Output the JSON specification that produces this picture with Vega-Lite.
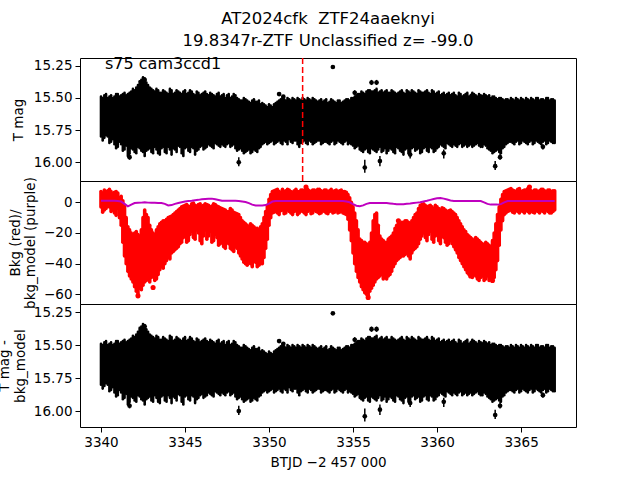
{
  "$schema": "https://vega.github.io/schema/vega-lite/v6.json",
  "autosize": {"type": "none"},
  "params": [{"name": "width", "value": 496}, {"name": "height", "value": 369}],
  "padding": {"left": 80, "top": 58, "right": 64, "bottom": 53},
  "spacing": 0,
  "bounds": "flush",
  "background": "white",
  "config": {
    "font": "DejaVu Sans",
    "view": {"stroke": "black", "strokeWidth": 1},
    "axis": {"labelFont": "DejaVu Sans", "labelFontSize": 13.5, "labelColor": "black", "titleFont": "DejaVu Sans", "titleFontSize": 13.5, "titleFontWeight": "normal", "titleColor": "black", "tickColor": "black", "domainColor": "black", "tickSize": 5, "labelPadding": 3, "grid": false, "domain": false, "labelFlush": false, "labelOverlap": false}
  },
  "title": {"text": ["AT2024cfk\u00a0 ZTF24aaeknyi", "19.8347r-ZTF Unclassified z= -99.0"], "fontSize": 16.5, "fontWeight": "normal", "font": "DejaVu Sans", "color": "black", "anchor": "middle", "frame": "group", "offset": 6, "lineHeight": 22},
  "datasets": {
    "lc": [
      {"t":3340.0,"lo":15.49,"hi":15.80,"bt":7.0,"bb":-3.0,"bm":1.0},
      {"t":3340.2,"lo":15.48,"hi":15.81,"bt":8.0,"bb":-5.0,"bm":1.0},
      {"t":3340.4,"lo":15.50,"hi":15.80,"bt":7.5,"bb":-2.5,"bm":1.0},
      {"t":3340.6,"lo":15.48,"hi":15.84,"bt":7.0,"bb":-6.0,"bm":1.0},
      {"t":3340.8,"lo":15.49,"hi":15.86,"bt":6.5,"bb":-7.0,"bm":1.0},
      {"t":3341.0,"lo":15.47,"hi":15.88,"bt":6.0,"bb":-4.0,"bm":0.9},
      {"t":3341.2,"lo":15.48,"hi":15.86,"bt":4.0,"bb":-15.0,"bm":0.5},
      {"t":3341.4,"lo":15.46,"hi":15.90,"bt":-2.0,"bb":-35.0,"bm":-1.0},
      {"t":3341.6,"lo":15.47,"hi":15.95,"bt":-16.0,"bb":-45.0,"bm":-2.6},
      {"t":3341.8,"lo":15.45,"hi":15.89,"bt":-20.0,"bb":-50.0,"bm":-1.5},
      {"t":3342.0,"lo":15.44,"hi":15.92,"bt":-20.0,"bb":-55.0,"bm":-0.5},
      {"t":3342.2,"lo":15.40,"hi":15.88,"bt":-21.0,"bb":-59.5,"bm":-0.3},
      {"t":3342.4,"lo":15.36,"hi":15.91,"bt":-18.0,"bb":-57.0,"bm":-0.2},
      {"t":3342.6,"lo":15.35,"hi":15.95,"bt":-5.0,"bb":-52.0,"bm":0.0},
      {"t":3342.8,"lo":15.40,"hi":15.90,"bt":-10.0,"bb":-50.0,"bm":-0.2},
      {"t":3343.0,"lo":15.43,"hi":15.92,"bt":-18.0,"bb":-49.0,"bm":-0.3},
      {"t":3343.2,"lo":15.45,"hi":15.88,"bt":-21.0,"bb":-51.0,"bm":-0.3},
      {"t":3343.4,"lo":15.44,"hi":15.93,"bt":-16.0,"bb":-47.0,"bm":-0.5},
      {"t":3343.6,"lo":15.46,"hi":15.89,"bt":-13.0,"bb":-42.0,"bm":-0.5},
      {"t":3343.8,"lo":15.45,"hi":15.92,"bt":-12.0,"bb":-40.0,"bm":-1.0},
      {"t":3344.0,"lo":15.47,"hi":15.88,"bt":-10.0,"bb":-36.0,"bm":-2.0},
      {"t":3344.2,"lo":15.44,"hi":15.94,"bt":-9.0,"bb":-33.0,"bm":-1.8},
      {"t":3344.4,"lo":15.46,"hi":15.90,"bt":-7.0,"bb":-31.0,"bm":-1.0},
      {"t":3344.6,"lo":15.45,"hi":15.87,"bt":-5.0,"bb":-29.0,"bm":-0.5},
      {"t":3344.8,"lo":15.47,"hi":15.93,"bt":-3.0,"bb":-26.0,"bm":0.0},
      {"t":3345.0,"lo":15.44,"hi":15.89,"bt":-2.0,"bb":-22.0,"bm":0.5},
      {"t":3345.2,"lo":15.46,"hi":15.91,"bt":-2.5,"bb":-25.0,"bm":0.8},
      {"t":3345.4,"lo":15.45,"hi":15.88,"bt":-1.0,"bb":-19.0,"bm":1.0},
      {"t":3345.6,"lo":15.48,"hi":15.94,"bt":-2.0,"bb":-24.0,"bm":1.3},
      {"t":3345.8,"lo":15.46,"hi":15.90,"bt":-1.5,"bb":-20.0,"bm":1.6},
      {"t":3346.0,"lo":15.47,"hi":15.87,"bt":-3.0,"bb":-27.0,"bm":2.0},
      {"t":3346.2,"lo":15.45,"hi":15.89,"bt":-1.0,"bb":-18.0,"bm":2.2},
      {"t":3346.4,"lo":15.48,"hi":15.86,"bt":-2.0,"bb":-22.0,"bm":2.4},
      {"t":3346.6,"lo":15.47,"hi":15.88,"bt":-2.5,"bb":-26.0,"bm":2.4},
      {"t":3346.8,"lo":15.49,"hi":15.85,"bt":-1.5,"bb":-21.0,"bm":2.0},
      {"t":3347.0,"lo":15.46,"hi":15.87,"bt":-3.0,"bb":-28.0,"bm":1.5},
      {"t":3347.2,"lo":15.48,"hi":15.86,"bt":-4.0,"bb":-25.0,"bm":1.0},
      {"t":3347.4,"lo":15.50,"hi":15.88,"bt":-5.0,"bb":-30.0,"bm":1.0},
      {"t":3347.6,"lo":15.47,"hi":15.85,"bt":-6.0,"bb":-27.0,"bm":1.0},
      {"t":3347.8,"lo":15.49,"hi":15.87,"bt":-5.0,"bb":-31.0,"bm":1.0},
      {"t":3348.0,"lo":15.48,"hi":15.89,"bt":-7.0,"bb":-29.0,"bm":1.0},
      {"t":3348.2,"lo":15.51,"hi":15.90,"bt":-8.0,"bb":-33.0,"bm":0.8},
      {"t":3348.4,"lo":15.52,"hi":15.91,"bt":-12.0,"bb":-37.0,"bm":0.5},
      {"t":3348.6,"lo":15.51,"hi":15.92,"bt":-14.0,"bb":-40.0,"bm":0.2},
      {"t":3348.8,"lo":15.53,"hi":15.90,"bt":-16.0,"bb":-38.0,"bm":-0.5},
      {"t":3349.0,"lo":15.52,"hi":15.92,"bt":-15.0,"bb":-42.0,"bm":-1.5},
      {"t":3349.2,"lo":15.53,"hi":15.91,"bt":-17.0,"bb":-39.0,"bm":-2.0},
      {"t":3349.4,"lo":15.52,"hi":15.89,"bt":-18.0,"bb":-41.0,"bm":-2.0},
      {"t":3349.6,"lo":15.54,"hi":15.86,"bt":-14.0,"bb":-40.0,"bm":-2.0},
      {"t":3349.8,"lo":15.56,"hi":15.84,"bt":-6.0,"bb":-30.0,"bm":-1.8},
      {"t":3350.0,"lo":15.55,"hi":15.85,"bt":2.0,"bb":-15.0,"bm":-0.8},
      {"t":3350.2,"lo":15.57,"hi":15.83,"bt":7.0,"bb":-7.0,"bm":0.5},
      {"t":3350.4,"lo":15.54,"hi":15.85,"bt":8.0,"bb":-6.0,"bm":0.8},
      {"t":3350.6,"lo":15.52,"hi":15.83,"bt":7.0,"bb":-8.0,"bm":0.8},
      {"t":3350.8,"lo":15.50,"hi":15.86,"bt":8.5,"bb":-5.0,"bm":0.8},
      {"t":3351.0,"lo":15.52,"hi":15.84,"bt":7.5,"bb":-7.0,"bm":0.8},
      {"t":3351.2,"lo":15.51,"hi":15.82,"bt":8.0,"bb":-6.0,"bm":0.8},
      {"t":3351.4,"lo":15.50,"hi":15.85,"bt":6.5,"bb":-8.0,"bm":0.8},
      {"t":3351.6,"lo":15.52,"hi":15.83,"bt":8.5,"bb":-5.5,"bm":0.8},
      {"t":3351.8,"lo":15.51,"hi":15.88,"bt":7.0,"bb":-7.0,"bm":0.8},
      {"t":3352.0,"lo":15.50,"hi":15.84,"bt":8.0,"bb":-6.0,"bm":0.8},
      {"t":3352.2,"lo":15.52,"hi":15.85,"bt":9.0,"bb":-8.0,"bm":0.8},
      {"t":3352.4,"lo":15.51,"hi":15.83,"bt":7.5,"bb":-5.0,"bm":0.8},
      {"t":3352.6,"lo":15.50,"hi":15.86,"bt":8.0,"bb":-7.0,"bm":0.8},
      {"t":3352.8,"lo":15.52,"hi":15.84,"bt":7.0,"bb":-6.0,"bm":0.8},
      {"t":3353.0,"lo":15.52,"hi":15.83,"bt":8.5,"bb":-7.5,"bm":0.8},
      {"t":3353.2,"lo":15.53,"hi":15.85,"bt":7.0,"bb":-5.5,"bm":0.8},
      {"t":3353.4,"lo":15.51,"hi":15.84,"bt":8.0,"bb":-7.0,"bm":0.8},
      {"t":3353.6,"lo":15.53,"hi":15.86,"bt":7.5,"bb":-6.0,"bm":0.8},
      {"t":3353.8,"lo":15.52,"hi":15.83,"bt":7.0,"bb":-7.0,"bm":0.8},
      {"t":3354.0,"lo":15.54,"hi":15.85,"bt":8.0,"bb":-5.0,"bm":0.8},
      {"t":3354.2,"lo":15.52,"hi":15.84,"bt":7.5,"bb":-6.5,"bm":0.8},
      {"t":3354.4,"lo":15.53,"hi":15.86,"bt":7.0,"bb":-7.0,"bm":0.8},
      {"t":3354.6,"lo":15.51,"hi":15.83,"bt":6.5,"bb":-8.0,"bm":0.5},
      {"t":3354.8,"lo":15.52,"hi":15.85,"bt":3.0,"bb":-18.0,"bm":0.0},
      {"t":3355.0,"lo":15.50,"hi":15.87,"bt":-3.0,"bb":-33.0,"bm":-1.2},
      {"t":3355.2,"lo":15.48,"hi":15.88,"bt":-12.0,"bb":-45.0,"bm":-2.2},
      {"t":3355.4,"lo":15.47,"hi":15.90,"bt":-24.0,"bb":-52.0,"bm":-2.6},
      {"t":3355.6,"lo":15.46,"hi":15.92,"bt":-26.0,"bb":-57.0,"bm":-2.0},
      {"t":3355.8,"lo":15.45,"hi":15.89,"bt":-27.0,"bb":-60.0,"bm":-1.0},
      {"t":3356.0,"lo":15.44,"hi":15.93,"bt":-26.0,"bb":-58.0,"bm":-0.5},
      {"t":3356.2,"lo":15.45,"hi":15.90,"bt":-12.0,"bb":-54.0,"bm":-0.5},
      {"t":3356.4,"lo":15.43,"hi":15.92,"bt":-7.0,"bb":-50.0,"bm":-0.5},
      {"t":3356.6,"lo":15.45,"hi":15.88,"bt":-22.0,"bb":-48.0,"bm":-0.5},
      {"t":3356.8,"lo":15.46,"hi":15.91,"bt":-25.0,"bb":-50.0,"bm":-0.5},
      {"t":3357.0,"lo":15.44,"hi":15.93,"bt":-26.0,"bb":-50.0,"bm":-0.5},
      {"t":3357.2,"lo":15.46,"hi":15.89,"bt":-23.0,"bb":-47.0,"bm":-0.7},
      {"t":3357.4,"lo":15.45,"hi":15.92,"bt":-20.0,"bb":-42.0,"bm":-1.0},
      {"t":3357.6,"lo":15.47,"hi":15.88,"bt":-15.0,"bb":-38.0,"bm":-1.2},
      {"t":3357.8,"lo":15.45,"hi":15.91,"bt":-14.0,"bb":-36.0,"bm":-1.3},
      {"t":3358.0,"lo":15.46,"hi":15.94,"bt":-13.0,"bb":-35.0,"bm":-1.3},
      {"t":3358.2,"lo":15.44,"hi":15.89,"bt":-12.0,"bb":-33.0,"bm":-1.0},
      {"t":3358.4,"lo":15.46,"hi":15.92,"bt":-14.0,"bb":-37.0,"bm":-0.8},
      {"t":3358.6,"lo":15.45,"hi":15.88,"bt":-10.0,"bb":-31.0,"bm":-0.5},
      {"t":3358.8,"lo":15.47,"hi":15.90,"bt":-7.0,"bb":-29.0,"bm":-0.2},
      {"t":3359.0,"lo":15.45,"hi":15.93,"bt":-2.0,"bb":-24.0,"bm":0.0},
      {"t":3359.2,"lo":15.46,"hi":15.89,"bt":-1.0,"bb":-20.0,"bm":0.5},
      {"t":3359.4,"lo":15.44,"hi":15.91,"bt":-3.0,"bb":-25.0,"bm":1.0},
      {"t":3359.6,"lo":15.47,"hi":15.88,"bt":-2.0,"bb":-19.0,"bm":1.6},
      {"t":3359.8,"lo":15.45,"hi":15.92,"bt":-4.0,"bb":-26.0,"bm":2.2},
      {"t":3360.0,"lo":15.46,"hi":15.89,"bt":-3.0,"bb":-21.0,"bm":2.6},
      {"t":3360.2,"lo":15.48,"hi":15.86,"bt":-5.0,"bb":-27.0,"bm":2.8},
      {"t":3360.4,"lo":15.46,"hi":15.88,"bt":-4.0,"bb":-23.0,"bm":2.4},
      {"t":3360.6,"lo":15.47,"hi":15.85,"bt":-6.0,"bb":-28.0,"bm":1.8},
      {"t":3360.8,"lo":15.48,"hi":15.87,"bt":-5.0,"bb":-25.0,"bm":1.2},
      {"t":3361.0,"lo":15.46,"hi":15.86,"bt":-7.0,"bb":-29.0,"bm":0.9},
      {"t":3361.2,"lo":15.49,"hi":15.88,"bt":-10.0,"bb":-33.0,"bm":0.9},
      {"t":3361.4,"lo":15.47,"hi":15.85,"bt":-14.0,"bb":-38.0,"bm":0.9},
      {"t":3361.6,"lo":15.48,"hi":15.87,"bt":-18.0,"bb":-42.0,"bm":0.9},
      {"t":3361.8,"lo":15.46,"hi":15.88,"bt":-21.0,"bb":-46.0,"bm":0.9},
      {"t":3362.0,"lo":15.48,"hi":15.86,"bt":-23.0,"bb":-48.0,"bm":0.9},
      {"t":3362.2,"lo":15.47,"hi":15.87,"bt":-25.0,"bb":-47.0,"bm":0.9},
      {"t":3362.4,"lo":15.49,"hi":15.85,"bt":-24.0,"bb":-50.0,"bm":0.9},
      {"t":3362.6,"lo":15.48,"hi":15.88,"bt":-26.0,"bb":-49.0,"bm":0.8},
      {"t":3362.8,"lo":15.47,"hi":15.86,"bt":-28.0,"bb":-51.0,"bm":0.0},
      {"t":3363.0,"lo":15.49,"hi":15.89,"bt":-27.0,"bb":-48.0,"bm":-1.0},
      {"t":3363.2,"lo":15.50,"hi":15.91,"bt":-29.0,"bb":-50.0,"bm":-1.5},
      {"t":3363.4,"lo":15.49,"hi":15.92,"bt":-20.0,"bb":-49.0,"bm":-1.5},
      {"t":3363.6,"lo":15.51,"hi":15.90,"bt":-8.0,"bb":-38.0,"bm":-1.5},
      {"t":3363.8,"lo":15.50,"hi":15.93,"bt":2.0,"bb":-18.0,"bm":-1.2},
      {"t":3364.0,"lo":15.52,"hi":15.88,"bt":7.0,"bb":-8.0,"bm":0.0},
      {"t":3364.2,"lo":15.51,"hi":15.85,"bt":8.0,"bb":-6.0,"bm":0.8},
      {"t":3364.4,"lo":15.50,"hi":15.84,"bt":9.0,"bb":-5.0,"bm":0.8},
      {"t":3364.6,"lo":15.52,"hi":15.86,"bt":7.5,"bb":-7.0,"bm":0.8},
      {"t":3364.8,"lo":15.51,"hi":15.83,"bt":8.5,"bb":-6.0,"bm":0.8},
      {"t":3365.0,"lo":15.50,"hi":15.85,"bt":7.0,"bb":-5.5,"bm":0.8},
      {"t":3365.2,"lo":15.52,"hi":15.84,"bt":8.0,"bb":-7.0,"bm":0.9},
      {"t":3365.4,"lo":15.51,"hi":15.86,"bt":9.0,"bb":-6.0,"bm":0.9},
      {"t":3365.6,"lo":15.50,"hi":15.83,"bt":7.5,"bb":-5.0,"bm":0.9},
      {"t":3365.8,"lo":15.52,"hi":15.85,"bt":8.0,"bb":-7.0,"bm":0.9},
      {"t":3366.0,"lo":15.50,"hi":15.84,"bt":7.0,"bb":-6.0,"bm":0.9},
      {"t":3366.2,"lo":15.51,"hi":15.86,"bt":8.5,"bb":-5.5,"bm":0.9},
      {"t":3366.4,"lo":15.52,"hi":15.83,"bt":7.5,"bb":-7.0,"bm":0.8},
      {"t":3366.6,"lo":15.50,"hi":15.85,"bt":8.0,"bb":-6.0,"bm":0.8},
      {"t":3366.8,"lo":15.51,"hi":15.84,"bt":7.0,"bb":-7.0,"bm":0.8},
      {"t":3367.0,"lo":15.52,"hi":15.85,"bt":7.5,"bb":-5.0,"bm":0.8}
    ],
    "lc2": [
      {"t":3340.1,"lo":15.50,"hi":15.83,"bt":6.0,"bb":-6.5},
      {"t":3340.3,"lo":15.47,"hi":15.79,"bt":7.0,"bb":-4.0},
      {"t":3340.5,"lo":15.49,"hi":15.85,"bt":8.5,"bb":-3.0},
      {"t":3340.7,"lo":15.50,"hi":15.82,"bt":5.5,"bb":-5.0},
      {"t":3340.9,"lo":15.47,"hi":15.89,"bt":7.0,"bb":-8.5},
      {"t":3341.1,"lo":15.49,"hi":15.84,"bt":3.0,"bb":-10.0},
      {"t":3341.3,"lo":15.47,"hi":15.91,"bt":1.0,"bb":-26.0},
      {"t":3341.5,"lo":15.48,"hi":15.87,"bt":-10.0,"bb":-40.0},
      {"t":3341.7,"lo":15.46,"hi":15.93,"bt":-18.0,"bb":-48.0},
      {"t":3341.9,"lo":15.43,"hi":15.90,"bt":-22.0,"bb":-52.0},
      {"t":3342.1,"lo":15.42,"hi":15.93,"bt":-19.0,"bb":-58.0},
      {"t":3342.3,"lo":15.37,"hi":15.89,"bt":-22.0,"bb":-56.0},
      {"t":3342.5,"lo":15.34,"hi":15.92,"bt":-10.0,"bb":-54.0},
      {"t":3342.7,"lo":15.38,"hi":15.91,"bt":-8.0,"bb":-51.0},
      {"t":3342.9,"lo":15.42,"hi":15.89,"bt":-15.0,"bb":-52.0},
      {"t":3343.1,"lo":15.44,"hi":15.93,"bt":-20.0,"bb":-48.0},
      {"t":3343.3,"lo":15.43,"hi":15.90,"bt":-18.0,"bb":-50.0},
      {"t":3343.5,"lo":15.46,"hi":15.94,"bt":-14.0,"bb":-44.0},
      {"t":3343.7,"lo":15.44,"hi":15.88,"bt":-12.0,"bb":-43.0},
      {"t":3343.9,"lo":15.46,"hi":15.93,"bt":-11.0,"bb":-38.0},
      {"t":3344.1,"lo":15.43,"hi":15.90,"bt":-9.5,"bb":-37.0},
      {"t":3344.3,"lo":15.47,"hi":15.89,"bt":-8.0,"bb":-32.0},
      {"t":3344.5,"lo":15.44,"hi":15.92,"bt":-6.0,"bb":-30.0},
      {"t":3344.7,"lo":15.46,"hi":15.88,"bt":-4.0,"bb":-27.0},
      {"t":3344.9,"lo":15.45,"hi":15.95,"bt":-2.5,"bb":-23.0},
      {"t":3345.1,"lo":15.47,"hi":15.88,"bt":-1.5,"bb":-26.0},
      {"t":3345.3,"lo":15.44,"hi":15.92,"bt":-3.0,"bb":-21.0},
      {"t":3345.5,"lo":15.47,"hi":15.89,"bt":-0.5,"bb":-23.0},
      {"t":3345.7,"lo":15.45,"hi":15.91,"bt":-2.5,"bb":-18.0},
      {"t":3345.9,"lo":15.48,"hi":15.88,"bt":-1.0,"bb":-25.0},
      {"t":3346.1,"lo":15.46,"hi":15.90,"bt":-2.0,"bb":-22.0},
      {"t":3346.3,"lo":15.47,"hi":15.88,"bt":-1.5,"bb":-24.0},
      {"t":3346.5,"lo":15.46,"hi":15.87,"bt":-3.0,"bb":-19.0},
      {"t":3346.7,"lo":15.48,"hi":15.89,"bt":-1.0,"bb":-25.0},
      {"t":3346.9,"lo":15.47,"hi":15.86,"bt":-2.5,"bb":-23.0},
      {"t":3347.1,"lo":15.49,"hi":15.88,"bt":-3.5,"bb":-27.0},
      {"t":3347.3,"lo":15.47,"hi":15.87,"bt":-4.5,"bb":-29.0},
      {"t":3347.5,"lo":15.48,"hi":15.86,"bt":-6.0,"bb":-26.0},
      {"t":3347.7,"lo":15.50,"hi":15.88,"bt":-4.0,"bb":-30.0},
      {"t":3347.9,"lo":15.47,"hi":15.86,"bt":-6.5,"bb":-32.0},
      {"t":3348.1,"lo":15.50,"hi":15.91,"bt":-7.5,"bb":-30.0},
      {"t":3348.3,"lo":15.52,"hi":15.89,"bt":-10.0,"bb":-35.0},
      {"t":3348.5,"lo":15.50,"hi":15.93,"bt":-13.0,"bb":-39.0},
      {"t":3348.7,"lo":15.52,"hi":15.91,"bt":-15.0,"bb":-41.0},
      {"t":3348.9,"lo":15.54,"hi":15.93,"bt":-14.0,"bb":-40.0},
      {"t":3349.1,"lo":15.51,"hi":15.90,"bt":-16.0,"bb":-38.0},
      {"t":3349.3,"lo":15.53,"hi":15.92,"bt":-17.0,"bb":-42.0},
      {"t":3349.5,"lo":15.55,"hi":15.88,"bt":-16.0,"bb":-40.0},
      {"t":3349.7,"lo":15.55,"hi":15.85,"bt":-10.0,"bb":-36.0},
      {"t":3349.9,"lo":15.57,"hi":15.86,"bt":-2.0,"bb":-24.0},
      {"t":3350.1,"lo":15.56,"hi":15.84,"bt":5.0,"bb":-10.0},
      {"t":3350.3,"lo":15.55,"hi":15.86,"bt":7.5,"bb":-6.5},
      {"t":3350.5,"lo":15.53,"hi":15.84,"bt":8.5,"bb":-7.0},
      {"t":3350.7,"lo":15.51,"hi":15.85,"bt":6.5,"bb":-5.5},
      {"t":3350.9,"lo":15.51,"hi":15.83,"bt":7.0,"bb":-7.5},
      {"t":3351.1,"lo":15.50,"hi":15.86,"bt":8.5,"bb":-5.0},
      {"t":3351.3,"lo":15.52,"hi":15.84,"bt":7.0,"bb":-7.0},
      {"t":3351.5,"lo":15.51,"hi":15.83,"bt":7.5,"bb":-6.0},
      {"t":3351.7,"lo":15.50,"hi":15.86,"bt":7.0,"bb":-8.0},
      {"t":3351.9,"lo":15.52,"hi":15.85,"bt":8.0,"bb":-5.5},
      {"t":3352.1,"lo":15.51,"hi":15.83,"bt":7.5,"bb":-7.0},
      {"t":3352.3,"lo":15.50,"hi":15.86,"bt":8.5,"bb":-6.0},
      {"t":3352.5,"lo":15.52,"hi":15.84,"bt":7.0,"bb":-7.5},
      {"t":3352.7,"lo":15.51,"hi":15.85,"bt":8.0,"bb":-5.0},
      {"t":3352.9,"lo":15.53,"hi":15.83,"bt":8.5,"bb":-6.5},
      {"t":3353.1,"lo":15.51,"hi":15.86,"bt":7.5,"bb":-7.0},
      {"t":3353.3,"lo":15.52,"hi":15.84,"bt":8.0,"bb":-6.0},
      {"t":3353.5,"lo":15.54,"hi":15.85,"bt":7.0,"bb":-7.5},
      {"t":3353.7,"lo":15.51,"hi":15.84,"bt":8.5,"bb":-5.5},
      {"t":3353.9,"lo":15.53,"hi":15.86,"bt":7.5,"bb":-6.5},
      {"t":3354.1,"lo":15.52,"hi":15.83,"bt":7.0,"bb":-7.0},
      {"t":3354.3,"lo":15.54,"hi":15.85,"bt":8.0,"bb":-6.0},
      {"t":3354.5,"lo":15.52,"hi":15.84,"bt":7.0,"bb":-7.5},
      {"t":3354.7,"lo":15.51,"hi":15.86,"bt":5.0,"bb":-11.0},
      {"t":3354.9,"lo":15.50,"hi":15.86,"bt":0.0,"bb":-25.0},
      {"t":3355.1,"lo":15.49,"hi":15.89,"bt":-7.0,"bb":-40.0},
      {"t":3355.3,"lo":15.47,"hi":15.87,"bt":-18.0,"bb":-49.0},
      {"t":3355.5,"lo":15.45,"hi":15.91,"bt":-25.0,"bb":-55.0},
      {"t":3355.7,"lo":15.47,"hi":15.90,"bt":-26.0,"bb":-59.0},
      {"t":3355.9,"lo":15.44,"hi":15.92,"bt":-28.0,"bb":-61.0},
      {"t":3356.1,"lo":15.45,"hi":15.89,"bt":-20.0,"bb":-56.0},
      {"t":3356.3,"lo":15.44,"hi":15.91,"bt":-8.0,"bb":-52.0},
      {"t":3356.5,"lo":15.46,"hi":15.90,"bt":-15.0,"bb":-49.0},
      {"t":3356.7,"lo":15.44,"hi":15.92,"bt":-24.0,"bb":-47.0},
      {"t":3356.9,"lo":15.45,"hi":15.89,"bt":-26.0,"bb":-49.0},
      {"t":3357.1,"lo":15.46,"hi":15.91,"bt":-24.0,"bb":-48.0},
      {"t":3357.3,"lo":15.44,"hi":15.90,"bt":-22.0,"bb":-45.0},
      {"t":3357.5,"lo":15.46,"hi":15.93,"bt":-17.0,"bb":-40.0},
      {"t":3357.7,"lo":15.46,"hi":15.89,"bt":-14.0,"bb":-37.0},
      {"t":3357.9,"lo":15.44,"hi":15.92,"bt":-13.0,"bb":-35.0},
      {"t":3358.1,"lo":15.47,"hi":15.90,"bt":-12.0,"bb":-34.0},
      {"t":3358.3,"lo":15.45,"hi":15.93,"bt":-13.0,"bb":-35.0},
      {"t":3358.5,"lo":15.44,"hi":15.89,"bt":-12.0,"bb":-33.0},
      {"t":3358.7,"lo":15.46,"hi":15.91,"bt":-8.0,"bb":-30.0},
      {"t":3358.9,"lo":15.44,"hi":15.89,"bt":-4.0,"bb":-27.0},
      {"t":3359.1,"lo":15.46,"hi":15.92,"bt":-1.5,"bb":-22.0},
      {"t":3359.3,"lo":15.45,"hi":15.88,"bt":-2.0,"bb":-23.0},
      {"t":3359.5,"lo":15.46,"hi":15.92,"bt":-2.5,"bb":-21.0},
      {"t":3359.7,"lo":15.44,"hi":15.89,"bt":-3.0,"bb":-24.0},
      {"t":3359.9,"lo":15.47,"hi":15.91,"bt":-2.0,"bb":-22.0},
      {"t":3360.1,"lo":15.45,"hi":15.88,"bt":-4.0,"bb":-25.0},
      {"t":3360.3,"lo":15.47,"hi":15.87,"bt":-3.5,"bb":-22.0},
      {"t":3360.5,"lo":15.48,"hi":15.89,"bt":-5.0,"bb":-26.0},
      {"t":3360.7,"lo":15.46,"hi":15.86,"bt":-5.5,"bb":-27.0},
      {"t":3360.9,"lo":15.47,"hi":15.88,"bt":-6.0,"bb":-27.0},
      {"t":3361.1,"lo":15.48,"hi":15.87,"bt":-8.0,"bb":-31.0},
      {"t":3361.3,"lo":15.46,"hi":15.86,"bt":-12.0,"bb":-36.0},
      {"t":3361.5,"lo":15.49,"hi":15.88,"bt":-16.0,"bb":-40.0},
      {"t":3361.7,"lo":15.47,"hi":15.86,"bt":-19.0,"bb":-44.0},
      {"t":3361.9,"lo":15.49,"hi":15.87,"bt":-22.0,"bb":-47.0},
      {"t":3362.1,"lo":15.46,"hi":15.88,"bt":-24.0,"bb":-49.0},
      {"t":3362.3,"lo":15.48,"hi":15.86,"bt":-23.0,"bb":-48.0},
      {"t":3362.5,"lo":15.47,"hi":15.87,"bt":-25.0,"bb":-51.0},
      {"t":3362.7,"lo":15.49,"hi":15.88,"bt":-27.0,"bb":-48.0},
      {"t":3362.9,"lo":15.48,"hi":15.87,"bt":-26.0,"bb":-50.0},
      {"t":3363.1,"lo":15.48,"hi":15.90,"bt":-28.0,"bb":-51.0},
      {"t":3363.3,"lo":15.49,"hi":15.93,"bt":-25.0,"bb":-50.0},
      {"t":3363.5,"lo":15.50,"hi":15.91,"bt":-14.0,"bb":-44.0},
      {"t":3363.7,"lo":15.50,"hi":15.92,"bt":-3.0,"bb":-28.0},
      {"t":3363.9,"lo":15.51,"hi":15.89,"bt":5.0,"bb":-12.0},
      {"t":3364.1,"lo":15.51,"hi":15.86,"bt":7.5,"bb":-7.0},
      {"t":3364.3,"lo":15.52,"hi":15.84,"bt":8.5,"bb":-5.5},
      {"t":3364.5,"lo":15.51,"hi":15.85,"bt":8.0,"bb":-6.5},
      {"t":3364.7,"lo":15.50,"hi":15.84,"bt":7.0,"bb":-5.0},
      {"t":3364.9,"lo":15.52,"hi":15.86,"bt":9.0,"bb":-7.0},
      {"t":3365.1,"lo":15.51,"hi":15.83,"bt":7.5,"bb":-6.0},
      {"t":3365.3,"lo":15.50,"hi":15.85,"bt":8.0,"bb":-5.0},
      {"t":3365.5,"lo":15.52,"hi":15.84,"bt":8.5,"bb":-7.0},
      {"t":3365.7,"lo":15.51,"hi":15.86,"bt":7.0,"bb":-6.5},
      {"t":3365.9,"lo":15.50,"hi":15.83,"bt":8.0,"bb":-5.5},
      {"t":3366.1,"lo":15.52,"hi":15.85,"bt":7.5,"bb":-7.0},
      {"t":3366.3,"lo":15.51,"hi":15.84,"bt":8.5,"bb":-6.0},
      {"t":3366.5,"lo":15.50,"hi":15.86,"bt":7.0,"bb":-5.0},
      {"t":3366.7,"lo":15.52,"hi":15.83,"bt":8.0,"bb":-7.0},
      {"t":3366.9,"lo":15.51,"hi":15.85,"bt":7.5,"bb":-6.0}
    ],
    "out": [
      {"t":3353.8,"m":15.26,"lo":15.255,"hi":15.265},
      {"t":3355.1,"m":15.46,"lo":15.44,"hi":15.48},
      {"t":3356.1,"m":15.38,"lo":15.36,"hi":15.40},
      {"t":3356.4,"m":15.38,"lo":15.36,"hi":15.40},
      {"t":3350.6,"m":15.47,"lo":15.46,"hi":15.48},
      {"t":3350.85,"m":15.49,"lo":15.48,"hi":15.50},
      {"t":3348.2,"m":16.00,"lo":15.96,"hi":16.03},
      {"t":3355.7,"m":16.04,"lo":15.98,"hi":16.08},
      {"t":3356.6,"m":15.99,"lo":15.95,"hi":16.03},
      {"t":3358.4,"m":15.94,"lo":15.91,"hi":15.97},
      {"t":3360.4,"m":15.93,"lo":15.90,"hi":15.97},
      {"t":3363.46,"m":16.03,"lo":15.99,"hi":16.06},
      {"t":3363.75,"m":15.96,"lo":15.93,"hi":15.98},
      {"t":3341.7,"m":15.96,"lo":15.93,"hi":15.98},
      {"t":3362.1,"m":15.48,"lo":15.46,"hi":15.50},
      {"t":3362.8,"m":15.49,"lo":15.47,"hi":15.51},
      {"t":3366.3,"m":15.88,"lo":15.86,"hi":15.90},
      {"t":3342.6,"m":15.36,"lo":15.34,"hi":15.38}
    ],
    "rout": [
      {"t":3343.1,"b":-55.5},
      {"t":3352.2,"b":10.0},
      {"t":3348.9,"b":-19.0},
      {"t":3357.7,"b":-12.0},
      {"t":3365.5,"b":10.0},
      {"t":3355.9,"b":-62.0},
      {"t":3342.2,"b":-61.0},
      {"t":3362.0,"b":-48.0},
      {"t":3363.3,"b":-51.0}
    ]
  },
  "vconcat": [
    {
      "width": 496,
      "height": 123,
      "layer": [
        {
          "data": {"name": "lc"},
          "mark": {"type": "rule", "color": "black", "strokeWidth": 2.6, "strokeCap": "round", "clip": true},
          "encoding": {
            "x": {"field": "t", "type": "quantitative", "scale": {"domain": [3338.75, 3368.27], "nice": false, "zero": false}, "axis": null},
            "y": {"field": "lo", "type": "quantitative", "scale": {"domain": [15.19, 16.145], "nice": false, "zero": false, "reverse": true}, "axis": {"title": "T mag", "values": [15.25, 15.5, 15.75, 16.0], "format": ".2f", "titlePadding": 8}},
            "y2": {"field": "hi"}
          }
        },
        {
          "data": {"name": "lc2"},
          "mark": {"type": "rule", "color": "black", "strokeWidth": 2.6, "strokeCap": "round", "clip": true},
          "encoding": {
            "x": {"field": "t", "type": "quantitative"},
            "y": {"field": "lo", "type": "quantitative"},
            "y2": {"field": "hi"}
          }
        },
        {
          "data": {"name": "out"},
          "mark": {"type": "rule", "color": "black", "strokeWidth": 1.5, "clip": true},
          "encoding": {
            "x": {"field": "t", "type": "quantitative"},
            "y": {"field": "lo", "type": "quantitative"},
            "y2": {"field": "hi"}
          }
        },
        {
          "data": {"name": "out"},
          "mark": {"type": "circle", "color": "black", "opacity": 1, "size": 22, "clip": true},
          "encoding": {
            "x": {"field": "t", "type": "quantitative"},
            "y": {"field": "m", "type": "quantitative"}
          }
        },
        {
          "data": {"values": [{}]},
          "mark": {"type": "rule", "color": "red", "strokeWidth": 1.5, "strokeDash": [6, 3]},
          "encoding": {"x": {"datum": 3352.0, "type": "quantitative"}}
        },
        {
          "data": {"values": [{}]},
          "mark": {"type": "text", "fontSize": 16, "font": "DejaVu Sans", "color": "black", "align": "left", "baseline": "middle"},
          "encoding": {
            "x": {"datum": 3340.24, "type": "quantitative"},
            "y": {"datum": 15.237, "type": "quantitative"},
            "text": {"value": "s75 cam3ccd1"}
          }
        }
      ]
    },
    {
      "width": 496,
      "height": 123,
      "layer": [
        {
          "data": {"name": "lc"},
          "mark": {"type": "rule", "color": "#ff0000", "strokeWidth": 3.6, "strokeCap": "round", "clip": true},
          "encoding": {
            "x": {"field": "t", "type": "quantitative", "scale": {"domain": [3338.75, 3368.27], "nice": false, "zero": false}, "axis": null},
            "y": {"field": "bt", "type": "quantitative", "scale": {"domain": [-66.3, 13.9], "nice": false, "zero": false}, "axis": {"title": ["Bkg (red)/", "bkg_model (purple)"], "values": [0, -20, -40, -60], "format": "d", "titlePadding": 6}},
            "y2": {"field": "bb"}
          }
        },
        {
          "data": {"name": "lc2"},
          "mark": {"type": "rule", "color": "#ff0000", "strokeWidth": 3.6, "strokeCap": "round", "clip": true},
          "encoding": {
            "x": {"field": "t", "type": "quantitative"},
            "y": {"field": "bt", "type": "quantitative"},
            "y2": {"field": "bb"}
          }
        },
        {
          "data": {"name": "rout"},
          "mark": {"type": "circle", "color": "#ff0000", "opacity": 1, "size": 26, "clip": true},
          "encoding": {
            "x": {"field": "t", "type": "quantitative"},
            "y": {"field": "b", "type": "quantitative"}
          }
        },
        {
          "data": {"name": "lc"},
          "mark": {"type": "line", "color": "#bf00bf", "strokeWidth": 2, "clip": true},
          "encoding": {
            "x": {"field": "t", "type": "quantitative"},
            "y": {"field": "bm", "type": "quantitative"}
          }
        }
      ]
    },
    {
      "width": 496,
      "height": 123,
      "layer": [
        {
          "data": {"name": "lc"},
          "mark": {"type": "rule", "color": "black", "strokeWidth": 2.6, "strokeCap": "round", "clip": true},
          "encoding": {
            "x": {"field": "t", "type": "quantitative", "scale": {"domain": [3338.75, 3368.27], "nice": false, "zero": false}, "axis": {"title": "BTJD −2 457 000", "values": [3340, 3345, 3350, 3355, 3360, 3365], "format": "d", "titlePadding": 7}},
            "y": {"field": "lo", "type": "quantitative", "scale": {"domain": [15.189, 16.121], "nice": false, "zero": false, "reverse": true}, "axis": {"title": ["T mag -", "bkg_model"], "values": [15.25, 15.5, 15.75, 16.0], "format": ".2f", "titlePadding": 6}},
            "y2": {"field": "hi"}
          }
        },
        {
          "data": {"name": "lc2"},
          "mark": {"type": "rule", "color": "black", "strokeWidth": 2.6, "strokeCap": "round", "clip": true},
          "encoding": {
            "x": {"field": "t", "type": "quantitative"},
            "y": {"field": "lo", "type": "quantitative"},
            "y2": {"field": "hi"}
          }
        },
        {
          "data": {"name": "out"},
          "mark": {"type": "rule", "color": "black", "strokeWidth": 1.5, "clip": true},
          "encoding": {
            "x": {"field": "t", "type": "quantitative"},
            "y": {"field": "lo", "type": "quantitative"},
            "y2": {"field": "hi"}
          }
        },
        {
          "data": {"name": "out"},
          "mark": {"type": "circle", "color": "black", "opacity": 1, "size": 22, "clip": true},
          "encoding": {
            "x": {"field": "t", "type": "quantitative"},
            "y": {"field": "m", "type": "quantitative"}
          }
        }
      ]
    }
  ]
}
